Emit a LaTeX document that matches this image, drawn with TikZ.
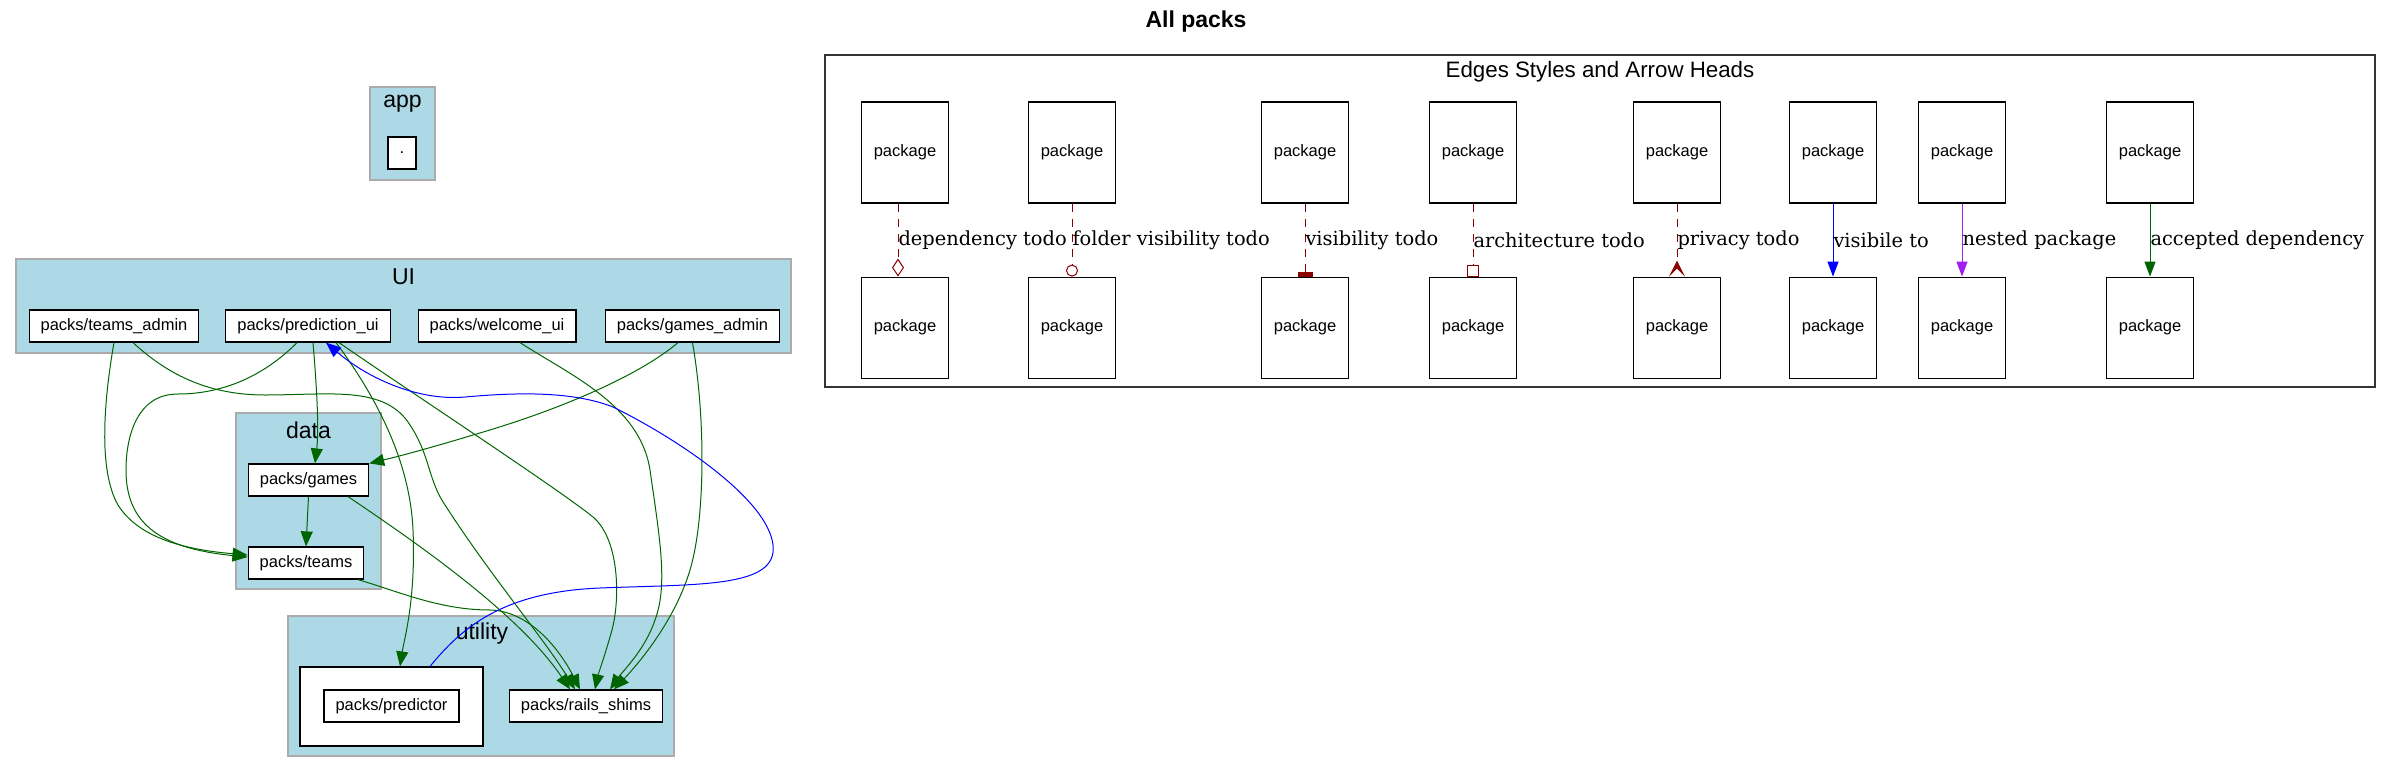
\documentclass[tikz,border=0pt]{standalone}
\usepackage{fontspec}
\setmainfont{Liberation Sans}
\newfontfamily\edgefont{DejaVu Serif}
\usetikzlibrary{arrows.meta,positioning}
\definecolor{clusterblue}{HTML}{ADD8E6}
\definecolor{depgreen}{HTML}{006400}
\definecolor{todored}{HTML}{8B0000}
\definecolor{nestpurple}{HTML}{A020F0}
\tikzset{every picture/.style={line width=1pt}}

\begin{document}
\begin{tikzpicture}[x=1pt, y=-1pt,
    pack/.style={draw=black, fill=white, line width=1.2pt, minimum height=32pt, inner xsep=11.5pt, inner ysep=0pt, font=\fontsize{16.5}{18}\selectfont},
    legendpack/.style={pack, minimum width=87pt, minimum height=101pt},
    cluster/.style={draw=black!33, fill=clusterblue, line width=1.5pt, inner sep=0pt},
    clabel/.style={font=\fontsize{23}{26}\selectfont},
    dep/.style={draw=depgreen, -{Triangle[length=15pt, width=12pt]}},
    todo/.style={draw=todored, dash pattern=on 8pt off 7pt},
    elabel/.style={right, inner sep=0pt, text=black, font=\edgefont\fontsize{19.4}{22}\selectfont}]
    \useasboundingbox (0,0) rectangle (2392,773);

    \node[font=\bfseries\fontsize{23}{26}\selectfont] (title) at (1196,22) {All packs};

    % app
    \node[cluster, minimum width=65pt, minimum height=93pt] (appbox) at (402.5,133.5) {};
    \node[clabel] (applbl) at (402.5,104) {app};
    \node[pack, minimum width=28pt, inner xsep=0pt] (root) at (402,153) {.};

    % UI
    \node[cluster, minimum width=775pt, minimum height=94pt] (uibox) at (403.5,306) {};
    \node[clabel] (uilbl) at (403.5,277) {UI};
    \node[pack] (tadmin) at (114,326) {packs/teams\_admin};
    \node[pack] (pui) at (308,326) {packs/prediction\_ui};
    \node[pack] (wui) at (497,326) {packs/welcome\_ui};
    \node[pack] (gadmin) at (692.5,326) {packs/games\_admin};

    % data
    \node[cluster, minimum width=145pt, minimum height=176pt] (databox) at (308.5,501) {};
    \node[clabel] (datalbl) at (308.5,430) {data};
    \node[pack] (games) at (308.5,480) {packs/games};
    \node[pack] (teams) at (306,563) {packs/teams};

    % utility
    \node[cluster, minimum width=386pt, minimum height=140pt] (utilbox) at (481,686) {};
    \node[clabel] (utillbl) at (482,634) {utility};
    \node[draw=black, fill=white, line width=1.2pt, minimum width=183pt, minimum height=79pt] (predbox) at (391.5,706.5) {};
    \node[pack] (pred) at (391.5,706) {packs/predictor};
    \node[pack] (rails) at (586,706) {packs/rails\_shims};

    % dependencies
    \draw[dep] (tadmin.south) .. controls (104,400) and (98,470) .. (118,505) .. controls (140,540) and (190,550) .. ([yshift=8pt]teams.west);
    \draw[dep] ([xshift=19pt]tadmin.south) .. controls (165,372) and (205,395) .. (265,395) .. controls (330,395) and (385,385) .. (410,425) .. controls (430,455) and (428,480) .. (445,505) .. controls (490,575) and (545,640) .. ([xshift=-11pt]rails.north);
    \draw[dep] ([xshift=-11pt]pui.south) .. controls (270,370) and (230,394) .. (178,394) .. controls (135,394) and (126,440) .. (126,470) .. controls (126,520) and (155,548) .. ([yshift=6pt]teams.west);
    \draw[dep] ([xshift=5pt]pui.south) .. controls (317,390) and (319,430) .. ([xshift=6.5pt]games.north);
    \draw[dep] ([xshift=28pt]pui.south) .. controls (375,395) and (410,460) .. (413,530) .. controls (416,600) and (404,640) .. ([xshift=8.5pt]predbox.north);
    \draw[dep] ([xshift=31pt]pui.south) .. controls (400,385) and (560,490) .. (593,517) .. controls (620,540) and (620,600) .. (612,630) .. controls (605,655) and (598,675) .. ([xshift=9pt]rails.north);
    \draw[dep] ([xshift=23pt]wui.south) .. controls (570,375) and (640,405) .. (650,470) .. controls (660,540) and (668,585) .. (655,620) .. controls (645,650) and (622,672) .. ([xshift=24pt]rails.north);
    \draw[dep] ([xshift=-14.5pt]gadmin.south) .. controls (640,375) and (560,410) .. (473,435) .. controls (430,448) and (400,456) .. (games.north east);
    \draw[dep] (gadmin.south) .. controls (706,420) and (705,520) .. (690,570) .. controls (675,620) and (640,662) .. ([xshift=28pt]rails.north);
    \draw[dep] (games.south) -- (teams.north);
    \draw[dep] ([xshift=39.5pt]games.south) .. controls (420,545) and (520,615) .. ([xshift=-16pt]rails.north);
    \draw[dep] ([xshift=52pt]teams.south) .. controls (400,592) and (440,610) .. (490,610) .. controls (530,611) and (560,650) .. ([xshift=-6pt]rails.north);
    \draw[blue, -{Triangle[length=15pt, width=12pt]}] ([xshift=38.5pt]predbox.north) .. controls (460,630) and (500,592) .. (600,588) .. controls (700,584) and (778,588) .. (773,545) .. controls (768,500) and (680,440) .. (613,407) .. controls (570,390) and (510,393) .. (465,397) .. controls (420,401) and (370,380) .. ([xshift=18pt]pui.south);

    % legend
    \node[draw=black!80, line width=1.3pt, minimum width=1550pt, minimum height=332pt] (legend) at (1600,221) {};
    \node[font=\fontsize{22.3}{25}\selectfont] (legendlbl) at (1600,72) {Edges Styles and Arrow Heads};
    \node[legendpack] (lt1) at (905,152.5) {package};
    \node[legendpack] (lt2) at (1072,152.5) {package};
    \node[legendpack] (lt3) at (1305,152.5) {package};
    \node[legendpack] (lt4) at (1473,152.5) {package};
    \node[legendpack] (lt5) at (1677,152.5) {package};
    \node[legendpack] (lt6) at (1833,152.5) {package};
    \node[legendpack] (lt7) at (1962,152.5) {package};
    \node[legendpack] (lt8) at (2150,152.5) {package};
    \node[legendpack, below=73pt of lt1] (lb1) {package};
    \node[legendpack, below=73pt of lt2] (lb2) {package};
    \node[legendpack, below=73pt of lt3] (lb3) {package};
    \node[legendpack, below=73pt of lt4] (lb4) {package};
    \node[legendpack, below=73pt of lt5] (lb5) {package};
    \node[legendpack, below=73pt of lt6] (lb6) {package};
    \node[legendpack, below=73pt of lt7] (lb7) {package};
    \node[legendpack, below=73pt of lt8] (lb8) {package};

    \draw[todo, -{Diamond[open, length=18pt, width=12pt]}] ([xshift=-7pt]lt1.south) -- node[elabel] {dependency todo} ([xshift=-7pt]lb1.north);
    \draw[todo, -{Circle[open, length=12pt, width=12pt]}] (lt2) -- node[elabel] {folder visibility todo} (lb2);
    \draw[todo, -{Rectangle[length=4.5pt, width=15pt]}] (lt3) -- node[elabel] {visibility todo} (lb3);
    \draw[todo, -{Rectangle[open, length=12pt, width=12pt]}] (lt4) -- node[elabel] {architecture todo} (lb4);
    \draw[todo, -{Stealth[reversed, length=16pt, width=16pt, inset=8pt]}] (lt5) -- node[elabel] {privacy todo} (lb5);
    \draw[blue, -{Triangle[length=15pt, width=11pt]}] (lt6) -- node[elabel] {visibile to} (lb6);
    \draw[nestpurple, -{Triangle[length=15pt, width=11pt]}] (lt7) -- node[elabel] {nested package} (lb7);
    \draw[depgreen, -{Triangle[length=15pt, width=11pt]}] (lt8) -- node[elabel] {accepted dependency} (lb8);
\end{tikzpicture}
\end{document}
